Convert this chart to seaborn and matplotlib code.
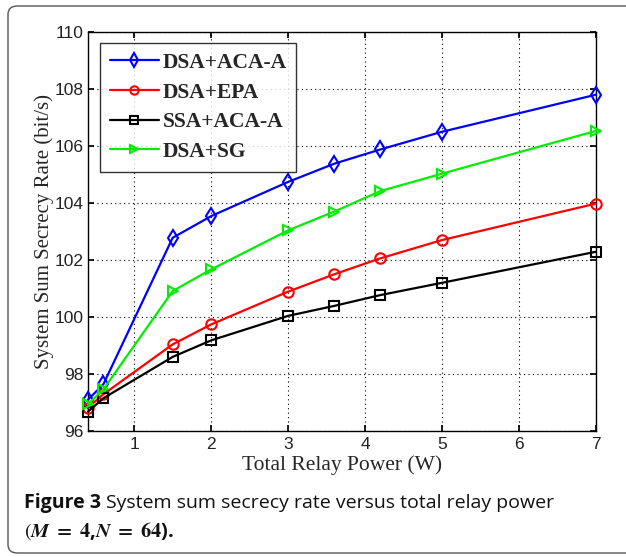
import numpy as np
import pandas as pd
import matplotlib
matplotlib.use("Agg")
import matplotlib.pyplot as plt
import seaborn as sns
from matplotlib.patches import FancyBboxPatch

power = [0.4, 0.6, 1.5, 2, 3, 3.6, 4.2, 5, 7]
dsa_aca = [97.1, 97.64, 102.78, 103.54, 104.74, 105.38, 105.88, 106.5, 107.8]
dsa_epa = [96.82, 97.29, 99.04, 99.74, 100.89, 101.5, 102.06, 102.7, 103.98]
ssa_aca = [96.68, 97.15, 98.6, 99.18, 100.04, 100.39, 100.77, 101.2, 102.29]
dsa_sg = [96.94, 97.46, 100.91, 101.67, 103.04, 103.7, 104.42, 105.03, 106.53]

labels = ["DSA+ACA-A", "DSA+EPA", "SSA+ACA-A", "DSA+SG"]
series = [dsa_aca, dsa_epa, ssa_aca, dsa_sg]
colors = ["#0000ff", "#ff0000", "#000000", "#00ee00"]
markers = ["d", "o", "s", ">"]
xticks = [1, 2, 3, 4, 5, 6, 7]
yticks = [96, 98, 100, 102, 104, 106, 108, 110]

sns.set_theme(style="white")
plt.rcParams['font.family'] = ['Liberation Sans Narrow', 'Liberation Sans', 'DejaVu Sans']
plt.rcParams['mathtext.fontset'] = 'stix'

fig = plt.figure(figsize=(6.26, 5.57), dpi=100)
fig.patch.set_facecolor("white")

# figure frame
frame = FancyBboxPatch((8/626, 4/557), 640/626, (553-6)/557,
                       boxstyle="round,pad=0,rounding_size=0.015",
                       transform=fig.transFigure, facecolor="none",
                       edgecolor="#555555", linewidth=1.0)
fig.patches.append(frame)

ax = fig.add_axes([88/626, 1-431/557, 508/626, 399/557])

df = pd.DataFrame({"power": power * 4,
                   "rate": sum(series, []),
                   "scheme": sum([[l]*len(power) for l in labels], [])})

handles = []
for lab, col, mk in zip(labels, colors, markers):
    sub = df[df["scheme"] == lab]
    sns.lineplot(data=sub, x="power", y="rate", ax=ax, color=col, marker=mk,
                 markersize=7.5 if mk != "d" else 8.5, markerfacecolor="none",
                 markeredgecolor=col, markeredgewidth=1.5, linewidth=1.6,
                 legend=False, clip_on=False, zorder=3)
    handles.append(plt.Line2D([], [], color=col, marker=mk,
                              markersize=6 if mk != "d" else 7,
                              markerfacecolor="none", markeredgecolor=col,
                              markeredgewidth=1.5, linewidth=1.6))

ax.set_xlim(0.4, 7)
ax.set_ylim(96, 110)
ax.set_xticks(xticks)
ax.set_yticks(yticks)
ax.grid(True, color="black", linestyle=(0, (1, 3)), linewidth=0.8)
for s in ax.spines.values():
    s.set_color("black")
    s.set_linewidth(1.0)
ax.tick_params(direction="in", length=4, color="black", labelsize=12.5,
               top=True, right=True, bottom=True, left=True, labelcolor="#222222")
ax.tick_params(axis="y", pad=3)
ax.tick_params(axis="x", pad=4)

ax.set_xlabel("Total Relay Power (W)", family="Liberation Serif", fontsize=15.5, labelpad=3)
ax.set_ylabel("System Sum Secrecy Rate (bit/s)", family="Liberation Serif", fontsize=15)
ax.yaxis.set_label_coords(-0.066, 0.5)

leg = ax.legend(handles, labels, loc="upper left", bbox_to_anchor=(12/508, 1-11/399),
                prop={"family": "Liberation Serif", "weight": "bold", "size": 15.5},
                frameon=True, fancybox=False, edgecolor="black", handlelength=2.3,
                borderpad=0.45, labelspacing=0.45, handletextpad=0.15, borderaxespad=0.0)
leg.get_frame().set_linewidth(1.0)
leg.set_zorder(5)

t1 = fig.text(24/626, 1-503/557, "Figure 3", family="Open Sans", weight="bold",
              fontsize=14, va="center", ha="left", color="#111111")
fig.canvas.draw()
bb = t1.get_window_extent(fig.canvas.get_renderer())
x2 = (bb.x1 + 5) / fig.bbox.width
fig.text(x2, 1-503/557, "System sum secrecy rate versus total relay power",
         family="Open Sans", fontsize=14, va="center", ha="left", color="#111111")
fig.text(24/626, 1-531/557, r"$(\boldsymbol{M}\ \mathbf{=\ 4}$,$\boldsymbol{N}\ \mathbf{=\ 64}$).",
         family="Open Sans", weight="bold", fontsize=14.5, va="center", ha="left",
         color="#111111")

fig.savefig("out.png", dpi=100)
